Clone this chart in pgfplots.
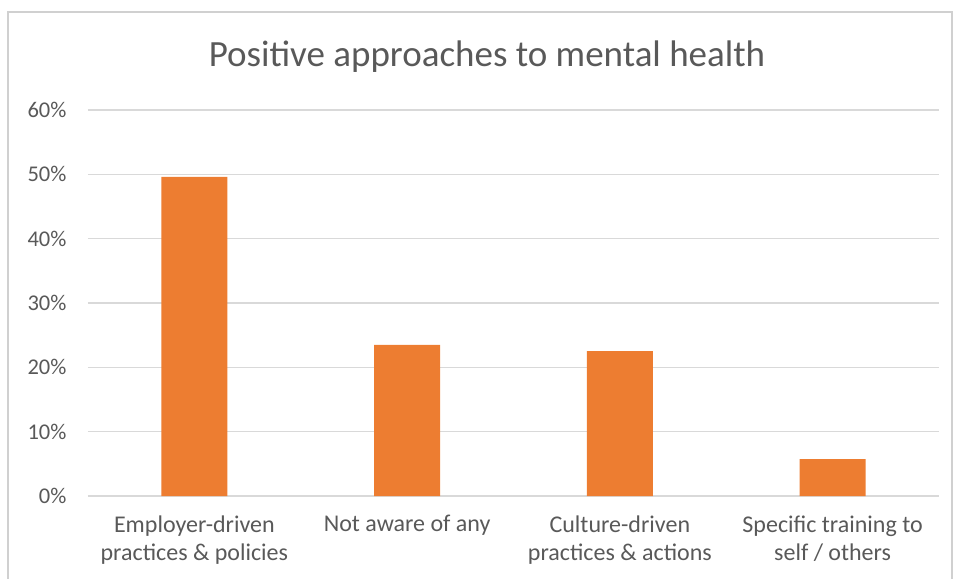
\documentclass[border=0pt]{standalone}
\usepackage{fontspec}
\setmainfont{Carlito}
\usepackage{pgfplots}
\pgfplotsset{compat=1.18}
\definecolor{barorange}{HTML}{ED7D31}
\definecolor{gridgray}{HTML}{D9D9D9}
\definecolor{textgray}{HTML}{595959}
\definecolor{framegray}{HTML}{D0D0D0}
\begin{document}
\begin{tikzpicture}[x=1pt,y=1pt]
\useasboundingbox (0,0) rectangle (955,578);
\draw[framegray, line width=1.2pt] (8,-5) -- (8,566) -- (952,566) -- (952,-5);
\node[textgray, font=\fontsize{37}{42}\selectfont, anchor=base] at (487,511) {Positive approaches to mental health};
\begin{axis}[
  at={(88pt,82pt)}, anchor=south west,
  width=851pt, height=386pt, scale only axis,
  xmin=-0.5, xmax=3.5, ymin=0, ymax=60,
  ytick={0,10,...,60},
  yticklabel={\pgfmathprintnumber{\tick}\%},
  /pgf/number format/assume math mode=true,
  xtick={0,1,2,3},
  xticklabels={{Employer-driven\\practices \& policies},{Not aware of any},{Culture-driven\\practices \& actions},{Specific training to\\self / others}},
  xticklabel style={align=center, text=textgray, font=\fontsize{24}{28}\selectfont, yshift=-16pt},
  yticklabel style={text=textgray, font=\fontsize{22.5}{25}\selectfont, xshift=-18pt},
  major tick length=0pt,
  axis line style={draw=none},
  ymajorgrids, grid style={gridgray, line width=1.5pt},
  axis on top=false,
  ybar, bar width=66pt,
  clip=false,
]
\addplot[fill=barorange, draw=none] coordinates {(0,49.6) (1,23.5) (2,22.5) (3,5.75)};
\end{axis}
\end{tikzpicture}
\end{document}
